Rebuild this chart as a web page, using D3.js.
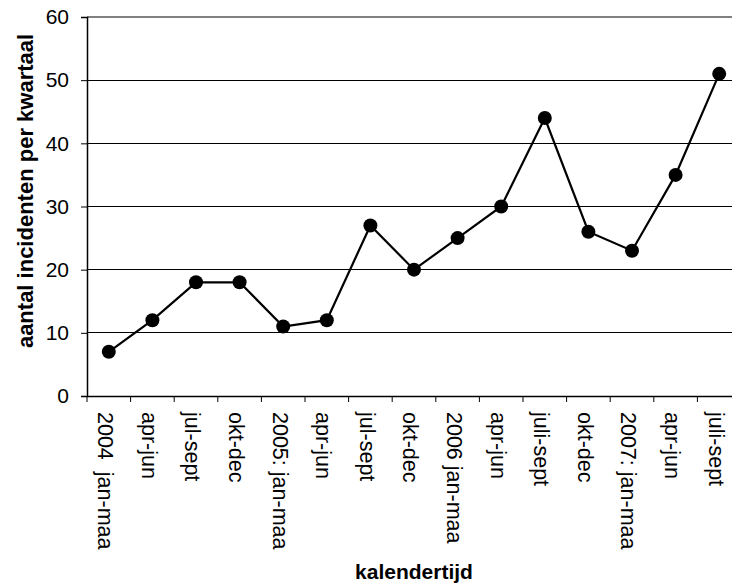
<!DOCTYPE html>
<html><head><meta charset="utf-8">
<script src="https://cdn.jsdelivr.net/npm/d3@7"></script>
<style>html,body{margin:0;padding:0;background:#fff;overflow:hidden}</style>
</head><body>
<svg id="c" width="732" height="586"></svg>
<script>
const categories = ["2004  jan-maa","apr-jun","jul-sept","okt-dec","2005: jan-maa","apr-jun","jul-sept","okt-dec","2006 jan-maa","apr-jun","juli-sept","okt-dec","2007: jan-maa","apr-jun","juli-sept"];
const values = [7,12,18,18,11,12,27,20,25,30,44,26,23,35,51];
const yTicks = [0,10,20,30,40,50,60];
const xTitle = "kalendertijd";
const yTitle = "aantal incidenten per kwartaal";

(function(){
const svg = d3.select("#c");
const font = "Arial, 'Liberation Sans', sans-serif";
const pLeft = 87, pRight = 741, pTop = 17, pBottom = 396;
const idx = categories.map((d,i)=>i);
const x = d3.scaleBand().domain(idx).range([pLeft,pRight]).padding(0);
const y = d3.scaleLinear().domain([0,60]).range([pBottom,pTop]);

// gridlines
svg.append("g").selectAll("line").data(yTicks.filter(t=>t>0 && t<60)).join("line")
  .attr("x1",pLeft).attr("x2",732).attr("y1",d=>y(d)).attr("y2",d=>y(d))
  .attr("stroke","#000").attr("stroke-width",1).attr("shape-rendering","crispEdges");
// top border
svg.append("line").attr("x1",pLeft).attr("x2",732).attr("y1",y(60)).attr("y2",y(60))
  .attr("stroke","#808080").attr("stroke-width",2);

// y axis
const ya = svg.append("g").attr("transform",`translate(${pLeft},0)`)
  .call(d3.axisLeft(y).tickValues(yTicks).tickSize(6).tickPadding(12));
ya.select(".domain").attr("stroke","#000").attr("stroke-width",1.5);
ya.selectAll(".tick line").attr("stroke","#000").attr("stroke-width",1);
ya.selectAll(".tick text").attr("font-family",font).attr("font-size",21).attr("fill","#000");

// x axis
const xa = svg.append("g").attr("transform",`translate(0,${pBottom})`)
  .call(d3.axisBottom(x).tickSize(0).tickFormat(i=>categories[i]));
xa.select(".domain").attr("stroke","#000").attr("stroke-width",1.5);
xa.selectAll(".tick line").remove();
xa.selectAll(".tick text")
  .attr("font-family",font).attr("font-size",21.5).attr("fill","#000")
  .style("white-space","pre")
  .attr("text-anchor","start").attr("transform","translate(-3,16) rotate(90)")
  .attr("x",0).attr("y",0).attr("dy","0.35em");
// boundary ticks
svg.append("g").selectAll("line").data(idx.concat([categories.length])).join("line")
  .attr("x1",i=>pLeft + i*x.bandwidth()).attr("x2",i=>pLeft + i*x.bandwidth())
  .attr("y1",pBottom).attr("y2",pBottom+6).attr("stroke","#000").attr("stroke-width",1);

// line
const line = d3.line().x((d,i)=>x(i)+x.bandwidth()/2).y(d=>y(d));
svg.append("path").datum(values).attr("d",line).attr("fill","none")
  .attr("stroke","#000").attr("stroke-width",2.2);
svg.append("g").selectAll("circle").data(values).join("circle")
  .attr("cx",(d,i)=>x(i)+x.bandwidth()/2).attr("cy",d=>y(d)).attr("r",7).attr("fill","#000");

// titles
svg.append("text").attr("x",414).attr("y",579).attr("text-anchor","middle")
  .attr("font-family",font).attr("font-weight","bold").attr("font-size",21).text(xTitle);
svg.append("text").attr("transform","translate(33,191) rotate(-90)").attr("text-anchor","middle")
  .attr("font-family",font).attr("font-weight","bold").attr("font-size",22).text(yTitle);
})();
</script>
</body></html>
